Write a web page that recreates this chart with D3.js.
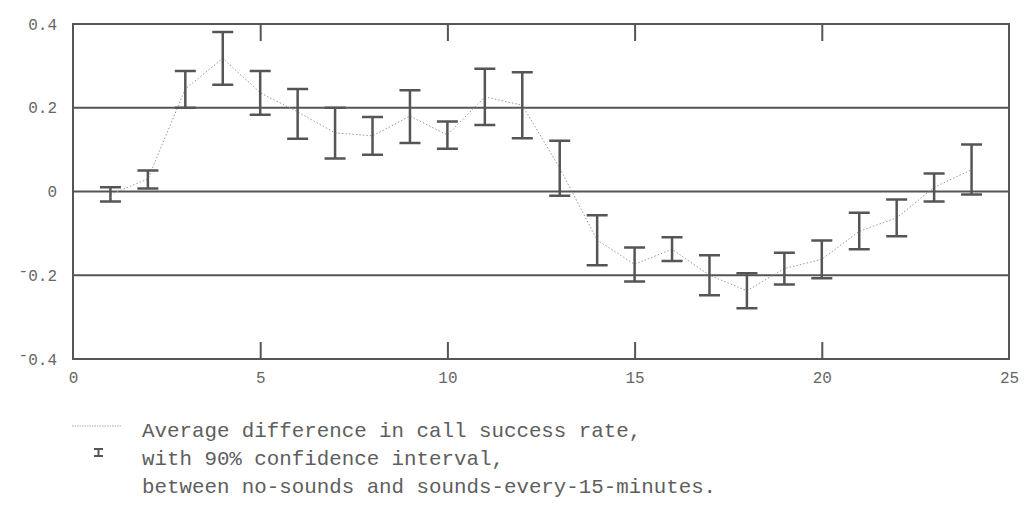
<!DOCTYPE html>
<html>
<head>
<meta charset="utf-8">
<script src="https://cdn.jsdelivr.net/npm/d3@7"></script>
<style>
  html, body { margin: 0; padding: 0; background: #ffffff; }
  svg { display: block; }
  text { font-family: "Liberation Mono", "DejaVu Sans Mono", monospace; fill: #666; }
</style>
</head>
<body>
<svg id="chart" width="1028" height="510"></svg>
<script>
// Hour of day
const hours = [1, 2, 3, 4, 5, 6, 7, 8, 9, 10, 11, 12, 13, 14, 15, 16, 17, 18, 19, 20, 21, 22, 23, 24];
// Average difference in call success rate
const meanDiff = [-0.007, 0.03, 0.245, 0.318, 0.236, 0.19, 0.14, 0.133, 0.18, 0.135, 0.226, 0.206,
                  0.056, -0.116, -0.174, -0.138, -0.2, -0.237, -0.184, -0.162, -0.095, -0.063, 0.01, 0.052];
// 90% confidence interval bounds
const upperCI = [0.01, 0.05, 0.288, 0.381, 0.288, 0.245, 0.2, 0.178, 0.242, 0.167, 0.293, 0.285,
                 0.121, -0.057, -0.134, -0.109, -0.152, -0.195, -0.146, -0.117, -0.051, -0.019, 0.043, 0.112];
const lowerCI = [-0.024, 0.007, 0.2, 0.255, 0.183, 0.126, 0.079, 0.088, 0.116, 0.102, 0.159, 0.127,
                 -0.01, -0.176, -0.215, -0.166, -0.248, -0.279, -0.222, -0.207, -0.138, -0.107, -0.024, -0.007];
// Axis ticks
const xTicks = [0, 5, 10, 15, 20, 25];
const yTicks = [0.4, 0.2, 0, -0.2, -0.4];
const gridValues = [0.2, 0, -0.2];
// Legend text
const legendLines = [
  "Average difference in call success rate,",
  "with 90% confidence interval,",
  "between no-sounds and sounds-every-15-minutes."
];

const svg = d3.select("#chart");
const plotL = 73, plotR = 1009, plotT = 24, plotB = 359;
const ink = "#555";

const x = d3.scaleLinear().domain([0, 25]).range([plotL, plotR]);
const y = d3.scaleLinear().domain([-0.4, 0.4]).range([plotB, plotT]);

// Horizontal reference lines
svg.append("g").selectAll("line").data(gridValues).join("line")
  .attr("x1", plotL).attr("x2", plotR)
  .attr("y1", d => y(d)).attr("y2", d => y(d))
  .attr("stroke", ink).attr("stroke-width", 2);

// Bottom axis: inward ticks with labels
const xAxis = svg.append("g").attr("transform", `translate(0,${plotB})`)
  .call(d3.axisBottom(x).tickValues(xTicks).tickSizeInner(0).tickSizeOuter(0).tickPadding(13)
    .tickFormat(d3.format("d")));
xAxis.select(".domain").remove();
xAxis.selectAll("text").attr("font-size", 16).style("fill", "#666")
  .attr("font-family", "Liberation Mono");
xAxis.selectAll(".tick").append("line")
  .attr("y1", 0).attr("y2", d => (d > 0 && d < 25) ? -17 : 0)
  .attr("stroke", ink).attr("stroke-width", 2);

// Top axis: inward ticks only
const xTop = svg.append("g").attr("transform", `translate(0,${plotT})`)
  .call(d3.axisTop(x).tickValues(xTicks.filter(d => d > 0 && d < 25)).tickSizeInner(0).tickSizeOuter(0).tickFormat(""));
xTop.select(".domain").remove();
xTop.selectAll(".tick").append("line")
  .attr("y1", 0).attr("y2", 17)
  .attr("stroke", ink).attr("stroke-width", 2);

// Left axis labels; negatives use a raised minus sign
const yAxis = svg.append("g").attr("transform", `translate(${plotL},0)`)
  .call(d3.axisLeft(y).tickValues(yTicks).tickSize(0).tickPadding(16)
    .tickFormat(d => d3.format("")(Math.abs(d))));
yAxis.select(".domain").remove();
yAxis.selectAll("text").attr("font-size", 16).style("fill", "#666")
  .attr("font-family", "Liberation Mono")
  .each(function (d) {
    if (d >= 0) return;
    const t = d3.select(this);
    const num = t.text();
    t.text(null);
    t.append("tspan").attr("dy", "0.02em").text("-");
    t.append("tspan").attr("dy", "0.3em").text(num);
  });

// Frame
svg.append("rect")
  .attr("x", plotL).attr("y", plotT)
  .attr("width", plotR - plotL).attr("height", plotB - plotT)
  .attr("fill", "none").attr("stroke", ink).attr("stroke-width", 2);

// Dotted mean line
const rows = hours.map((h, i) => ({ h, m: meanDiff[i], lo: lowerCI[i], hi: upperCI[i] }));
svg.append("path").datum(rows)
  .attr("fill", "none").attr("stroke", "#9a9a9a").attr("stroke-width", 1)
  .attr("stroke-dasharray", "1.5,2")
  .attr("d", d3.line().x(d => x(d.h)).y(d => y(d.m)));

// Confidence interval bars
const capW = 10.5;
const bars = svg.append("g").attr("stroke", ink).attr("stroke-width", 2.5).attr("fill", "none");
bars.selectAll("path").data(rows).join("path")
  .attr("d", d => {
    const cx = x(d.h), yt = y(d.hi), yb = y(d.lo);
    return `M${cx - capW},${yt}H${cx + capW}M${cx},${yt}V${yb}M${cx - capW},${yb}H${cx + capW}`;
  });

// Legend
const lg = svg.append("g");
lg.append("line")
  .attr("x1", 72).attr("x2", 121).attr("y1", 426).attr("y2", 426)
  .attr("stroke", "#aaa").attr("stroke-width", 1).attr("stroke-dasharray", "1.5,1");
lg.append("path")
  .attr("d", "M94,449H103M98.5,449V456M94,456H103")
  .attr("stroke", ink).attr("stroke-width", 2).attr("fill", "none");
lg.selectAll("text").data(legendLines).join("text")
  .attr("x", 142).attr("y", (d, i) => 437 + i * 28)
  .attr("font-size", 20.8)
  .style("fill", "#5e5e5e")
  .text(d => d);
</script>
</body>
</html>
